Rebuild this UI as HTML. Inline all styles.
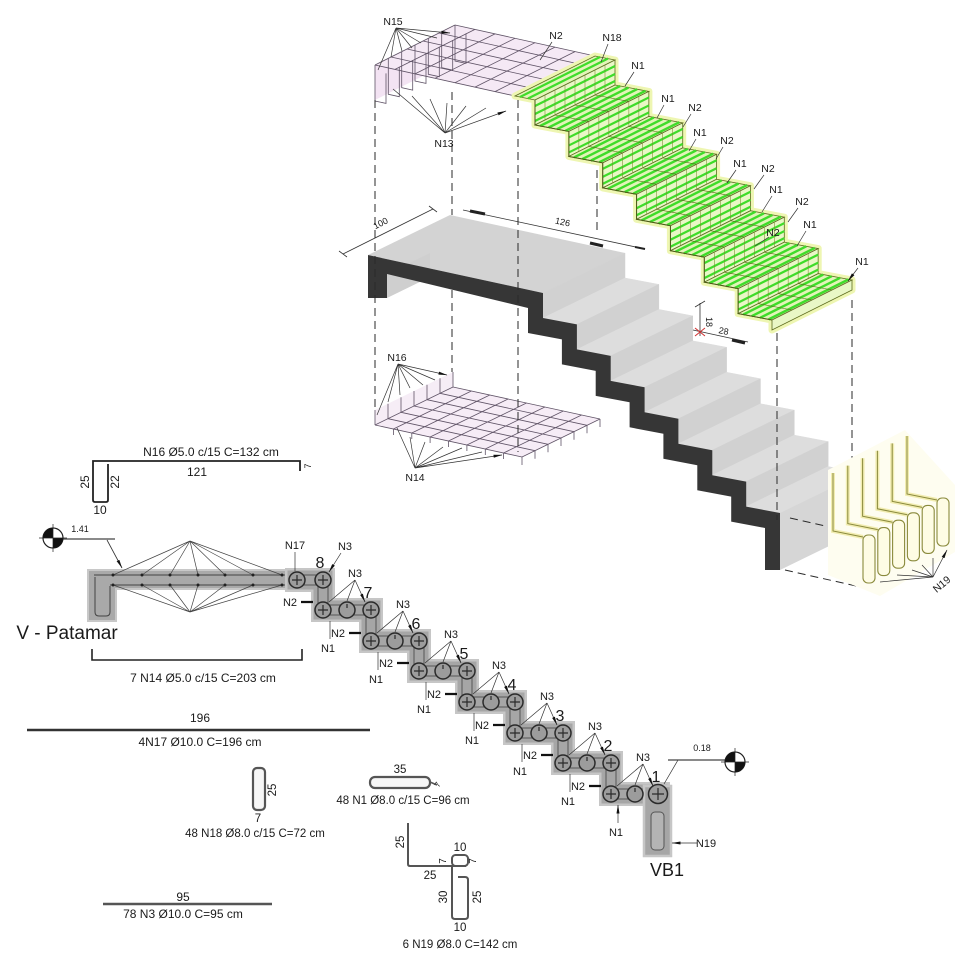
<!DOCTYPE html>
<html><head><meta charset="utf-8"><style>
html,body{margin:0;padding:0;background:#fff;}
svg{display:block;}
text{font-family:"Liberation Sans",Arial,sans-serif;fill:#1a1a1a;}
</style></head><body>
<svg width="960" height="960" viewBox="0 0 960 960" xmlns="http://www.w3.org/2000/svg">
<defs>
<marker id="ar" viewBox="0 0 10 4" refX="9.5" refY="2" markerWidth="9" markerHeight="3.6" markerUnits="userSpaceOnUse" orient="auto"><path d="M0,0.3L10,2L0,3.7Z" fill="#111"/></marker>
<g id="cs">
<path d="M0,0L0,25L82,-15L82,-40Z" fill="#d1d1d1" stroke="#d1d1d1" stroke-width=".5"/>
<path d="M0,25L33.86,31.43L115.86,-8.57L82,-15Z" fill="#dddddd" stroke="#dddddd" stroke-width=".5"/>
</g>
<g id="gs">
<path d="M0,0L0,25L80,-15L80,-40Z" fill="#e9f7c6" stroke="#5c6b1f" stroke-width=".8"/>
<path d="M0,25L33.86,31.43L113.86,-8.57L80,-15Z" fill="#e2f4b8" stroke="#5c6b1f" stroke-width=".8"/>
<path d="M0,6L80,-34M0,14L80,-26M0,21L80,-19" stroke="#3fdc2a" stroke-width="2.2"/>
<path d="M10,-5V20M20,-10V15M30,-15V10M40,-20V5M50,-25V0M60,-30V-5M70,-35V-10" stroke="#7a8a30" stroke-width=".55"/>
<path d="M5.1,26L85.1,-14M13.5,27.6L93.5,-12.4M22,29.2L102,-10.8M30.5,30.8L110.5,-9.2" stroke="#3fdc2a" stroke-width="2.4"/>
<path d="M20,15L53.86,21.43M40,5L73.86,11.43M60,-5L93.86,1.43" stroke="#5c6b1f" stroke-width=".6"/>
<path d="M0,0L0,25L33.86,31.43" fill="none" stroke="#4d5a18" stroke-width="1"/>
</g>
</defs>

<!-- ================= N15 top mesh ================= -->
<path d="M375,65L375,100L455,60L455,25Z" fill="#f3e3f3"/>
<path d="M375,65L515,96L595,56L455,25Z" fill="#f5e9f5"/>
<g stroke="#5f5366" stroke-width=".8" fill="none">
<path d="M375,65L515,96M391,57L531,88M407,49L547,80M423,41L563,72M439,33L579,64M455,25L595,56"/>
<path d="M375,65L455,25M395,69.4L475,29.4M415,73.9L495,33.9M435,78.3L515,38.3M455,82.7L535,42.7M475,87.1L555,47.1M495,91.6L575,51.6M515,96L595,56"/>
<path d="M375,65v36l11,2.4v-30M388.3,58.3v36l11,2.4v-30M401.7,51.7v36l11,2.4v-30M415,45v36l11,2.4v-30M428.3,38.3v36l11,2.4v-30M441.7,31.7v36l11,2.4v-30M455,25v36l11,2.4v-30"/>
</g>

<!-- ================= Green rebar stair ================= -->
<polygon points="515,96 535,100 535,125 568.9,131.4 568.9,156.4 602.7,162.9 602.7,187.9 636.6,194.3 636.6,219.3 670.4,225.7 670.4,250.7 704.3,257.2 704.3,282.2 738.2,288.6 738.2,313.6 772,320 772,330 852,290 852,280 818.2,273.6 818.2,248.6 784.3,242.2 784.3,217.2 750.4,210.7 750.4,185.7 716.6,179.3 716.6,154.3 682.7,147.9 682.7,122.9 648.9,116.4 648.9,91.4 615,85 615,60 595,56" fill="#f1f8c8" stroke="#eef6b2" stroke-width="7" stroke-linejoin="round"/>
<path d="M515,96L535,100L615,60L595,56Z" fill="#e2f4b8" stroke="#5c6b1f" stroke-width=".8"/>
<path d="M520,97L600,57M528,98.5L608,58.5" stroke="#3fdc2a" stroke-width="2.2"/>
<use href="#gs" transform="translate(535,100)"/>
<use href="#gs" transform="translate(568.86,131.43)"/>
<use href="#gs" transform="translate(602.72,162.86)"/>
<use href="#gs" transform="translate(636.58,194.29)"/>
<use href="#gs" transform="translate(670.44,225.72)"/>
<use href="#gs" transform="translate(704.3,257.15)"/>
<use href="#gs" transform="translate(738.16,288.58)"/>
<path d="M772,320L772,330L852,290L852,280Z" fill="#e9f7c6" stroke="#5c6b1f" stroke-width=".8"/>

<!-- ================= N16 lower mesh ================= -->
<path d="M375,425L375,410L453,372L453,387Z" fill="#f6edf6"/>
<path d="M375,425L522,457L600,419L453,387Z" fill="#f6ecf6"/>
<g stroke="#5f5366" stroke-width=".8" fill="none">
<path d="M375,425L522,457M388,418.7L535,450.7M401,412.3L548,444.3M414,406L561,438M427,399.7L574,431.7M440,393.3L587,425.3M453,387L600,419"/>
<path d="M375,425L453,387M393.4,429L471.4,391M411.8,433L489.8,395M430.1,437L508.1,399M448.5,441L526.5,403M466.9,445L544.9,407M485.3,449L563.3,411M503.6,453L581.6,415M522,457L600,419"/>
<path d="M375,425v-15M388,418.7v-15M401,412.3v-15M414,406v-15M427,399.7v-15M440,393.3v-15M453,387v-15"/>
<path d="M522,457v8M535,450.7v8M548,444.3v8M561,438v8M574,431.7v8M587,425.3v8M600,419v8"/>
<path d="M393.4,429v6M411.8,433v6M430.1,437v6M448.5,441v6M466.9,445v6M485.3,449v6M503.6,453v6"/>
</g>

<!-- ================= Concrete stair ================= -->
<path d="M368,255L543,293L625,253L450,215Z" fill="#d3d3d3"/>
<path d="M387,274L387,298L430,277L430,253Z" fill="#cfcfcf"/>
<use href="#cs" transform="translate(543,293)"/>
<use href="#cs" transform="translate(576.86,324.43)"/>
<use href="#cs" transform="translate(610.72,355.86)"/>
<use href="#cs" transform="translate(644.58,387.29)"/>
<use href="#cs" transform="translate(678.44,418.72)"/>
<use href="#cs" transform="translate(712.3,450.15)"/>
<use href="#cs" transform="translate(746.16,481.58)"/>
<path d="M780,513L780,570L862,530L862,473Z" fill="#d6d6d6"/>
<path d="M368,255L543,293V318L576.9,324.4V349.4L610.7,355.9V380.9L644.6,387.3V412.3L678.4,418.7V443.7L712.3,450.2V475.2L746.2,481.6V506.6L780,513V570H765V528L731.2,521.6V496.6L697.3,490.2V465.2L663.4,458.7V433.7L629.6,427.3V402.3L595.7,395.9V370.9L561.9,364.4V339.4L528,333V308L387,274V298H368Z" fill="#363636"/>

<!-- dashed projection lines -->
<g stroke="#2a2a2a" stroke-width="1" stroke-dasharray="8,5" fill="none">
<path d="M375,100V410M452,92V215M452,290V372M518,100V452M597,170V235M777,333V520M852,300V475"/>
<path d="M785,570L865,588M790,518L865,535M862,478L940,495"/>
</g>

<!-- dimensions on concrete -->
<g stroke="#333" stroke-width=".8" fill="none">
<path d="M343,254L433,209M339,251l8,6M429,206l8,6"/>
<path d="M463,210L645,249"/>
<path d="M700,303V336M695,307l10,-6M693,330L748,342"/>
</g>
<path d="M470,211L485,214M590,243L603,246M732,340L745,343" stroke="#222" stroke-width="3"/>
<path d="M635,247L645,249" stroke="#222" stroke-width="2"/>
<path d="M695,328l10,8M695,336l10,-8" stroke="#d03030" stroke-width="1"/>
<text transform="translate(382,226) rotate(-27)" font-size="9" text-anchor="middle">100</text>
<text transform="translate(562,225) rotate(12)" font-size="9" text-anchor="middle">126</text>
<text transform="translate(706,322) rotate(90)" font-size="9" text-anchor="middle">18</text>
<text transform="translate(723,334) rotate(12)" font-size="9" text-anchor="middle">28</text>

<!-- N19 3D stirrups -->
<polygon points="828,470 905,430 955,485 955,552 880,596 828,575" fill="#fefdf0"/>
<g fill="none" stroke="#f1ecb0" stroke-width="4">
<path d="M833,473V531L863,537M847.8,465.6V523.6L877.8,529.6M862.6,458.2V516.2L892.6,522.2M877.4,450.8V508.8L907.4,514.8M892.2,443.4V501.4L922.2,507.4M907,436V494L937,500"/>
</g>
<g fill="none" stroke="#8a8a3c" stroke-width="1">
<path d="M833,473V531L863,537M847.8,465.6V523.6L877.8,529.6M862.6,458.2V516.2L892.6,522.2M877.4,450.8V508.8L907.4,514.8M892.2,443.4V501.4L922.2,507.4M907,436V494L937,500"/>
</g>
<g fill="#fefce4" stroke="#8a8a3c" stroke-width="1.1">
<rect x="863" y="535" width="12" height="48" rx="5"/>
<rect x="877.8" y="527.6" width="12" height="48" rx="5"/>
<rect x="892.6" y="520.2" width="12" height="48" rx="5"/>
<rect x="907.4" y="512.8" width="12" height="48" rx="5"/>
<rect x="922.2" y="505.4" width="12" height="48" rx="5"/>
<rect x="937" y="498" width="12" height="48" rx="5"/>
</g>

<!-- ================= 3D labels & fans ================= -->
<g stroke="#333" stroke-width=".7" fill="none" marker-end="url(#ar)">
<path d="M396,28L378,70M396,28L391,57M396,28L402,51M396,28L412,48M396,28L421,43M396,28L437,38M396,28L450,33"/>
<path d="M445,133L393,89M445,133L412,96M445,133L430,99M445,133L447,103M445,133L466,106M445,133L486,108M445,133L506,111"/>
<path d="M398,364L377,415M398,364L388,402M398,364L400,395M398,364L410,388M398,364L423,385M398,364L435,380M398,364L447,375"/>
<path d="M415,468L397,428M415,468L410,437M415,468L425,442M415,468L443,447M415,468L462,448M415,468L482,452M415,468L502,455"/>
<path d="M933,577L880,582M933,577L897,575M933,577L912,570M933,577L922,565M933,577L933,558M933,577L947,550"/>
<path d="M552,42L540,60M608,44L601,62M634,72L625,86M664,105L657,118M691,114L683,127M696,139L689,151M723,147L716,159M736,170L727,183M764,175L754,189M772,196L762,212M798,208L788,222M769,237L755,246M806,231L797,246M858,268L848,281"/>
</g>
<g font-size="10.5" text-anchor="middle">
<text x="393" y="25">N15</text>
<text x="444" y="147">N13</text>
<text x="556" y="39">N2</text>
<text x="612" y="41">N18</text>
<text x="638" y="69">N1</text>
<text x="668" y="102">N1</text>
<text x="695" y="111">N2</text>
<text x="700" y="136">N1</text>
<text x="727" y="144">N2</text>
<text x="740" y="167">N1</text>
<text x="768" y="172">N2</text>
<text x="776" y="193">N1</text>
<text x="802" y="205">N2</text>
<text x="773" y="236">N2</text>
<text x="810" y="228">N1</text>
<text x="862" y="265">N1</text>
<text x="397" y="361">N16</text>
<text x="415" y="481">N14</text>
<text transform="translate(944,587) rotate(-40)">N19</text>
</g>

<!-- ================= N16 bar shape ================= -->
<path d="M300,471V461H93V500Q93,502 95,502H106Q108,502 108,500V464" fill="none" stroke="#222" stroke-width="1.8"/>
<g font-size="12" text-anchor="middle">
<text x="211" y="456">N16 Ø5.0 c/15 C=132 cm</text>
<text x="197" y="476">121</text>
<text x="100" y="514">10</text>
<text transform="translate(89,482) rotate(-90)">25</text>
<text transform="translate(119,482) rotate(-90)">22</text>
<text transform="translate(311,466) rotate(-90)" font-size="9">7</text>
</g>

<!-- section marker 1 -->
<path d="M43,539H115" stroke="#444" stroke-width="1.3"/>
<path d="M107,540L122,568" stroke="#333" stroke-width=".8" marker-end="url(#ar)"/>
<g transform="translate(53,538)">
<circle r="10" fill="#fff" stroke="#222" stroke-width="1.2"/>
<path d="M0,0V-10A10,10 0 0 0 -10,0Z" fill="#111"/>
<path d="M0,0V10A10,10 0 0 0 10,0Z" fill="#111"/>
<path d="M-14,0H14M0,-14V14" stroke="#222" stroke-width=".7"/>
</g>
<text x="80" y="532" font-size="9" text-anchor="middle">1.41</text>

<!-- landing section -->
<path d="M88,570H333V589H116V621H88Z" fill="#a9a9a9" stroke="#c8c8c8" stroke-width="2"/>
<g fill="none" stroke="#444" stroke-width="1">
<path d="M94,575H330M110,585H318"/>
<path d="M95,577V612Q95,616 99,616H106Q110,616 110,612V586"/>
</g>
<g stroke="#444" stroke-width=".7" fill="none">
<path d="M190,541L113,575M190,541L142,575M190,541L170,575M190,541L198,575M190,541L225,575M190,541L253,575M190,541L282,575"/>
<path d="M190,612L113,585M190,612L142,585M190,612L170,585M190,612L198,585M190,612L225,585M190,612L253,585M190,612L282,585"/>
</g>
<g fill="#222"><circle cx="113" cy="575" r="1.5"/><circle cx="142" cy="575" r="1.5"/><circle cx="170" cy="575" r="1.5"/><circle cx="198" cy="575" r="1.5"/><circle cx="225" cy="575" r="1.5"/><circle cx="253" cy="575" r="1.5"/><circle cx="282" cy="575" r="1.5"/><circle cx="113" cy="585" r="1.5"/><circle cx="142" cy="585" r="1.5"/><circle cx="170" cy="585" r="1.5"/><circle cx="198" cy="585" r="1.5"/><circle cx="225" cy="585" r="1.5"/><circle cx="253" cy="585" r="1.5"/><circle cx="282" cy="585" r="1.5"/></g>

<!-- stepped section band -->
<g fill="none" stroke-linejoin="miter" stroke-linecap="square">
<polyline points="297,580 323,580 323,610 371,610 371,641 419,641 419,671 467,671 467,702 515,702 515,733 563,733 563,763 611,763 611,794 658,794 658,845" stroke="#c6c6c6" stroke-width="24"/>
<polyline points="297,580 323,580 323,610 371,610 371,641 419,641 419,671 467,671 467,702 515,702 515,733 563,733 563,763 611,763 611,794 658,794 658,845" stroke="#a6a6a6" stroke-width="19"/>
<polyline points="297,580 323,580 323,610 371,610 371,641 419,641 419,671 467,671 467,702 515,702 515,733 563,733 563,763 611,763 611,794 658,794" stroke="#555" stroke-width="11"/>
<polyline points="297,580 323,580 323,610 371,610 371,641 419,641 419,671 467,671 467,702 515,702 515,733 563,733 563,763 611,763 611,794 658,794" stroke="#a6a6a6" stroke-width="9"/>
</g>
<rect x="644" y="786" width="27" height="70" fill="#a6a6a6" stroke="#c6c6c6" stroke-width="2.5"/>
<rect x="651" y="812" width="13" height="38" rx="4" fill="#b4b4b4" stroke="#555" stroke-width="1"/>

<!-- bar circles -->
<g fill="#9c9c9c" stroke="#2a2a2a" stroke-width="1.5">
<circle cx="297" cy="580" r="8"/><circle cx="323" cy="580" r="8"/>
<circle cx="323" cy="610" r="8"/><circle cx="347" cy="610" r="8"/><circle cx="371" cy="610" r="8"/>
<circle cx="371" cy="641" r="8"/><circle cx="395" cy="641" r="8"/><circle cx="419" cy="641" r="8"/>
<circle cx="419" cy="671" r="8"/><circle cx="443" cy="671" r="8"/><circle cx="467" cy="671" r="8"/>
<circle cx="467" cy="702" r="8"/><circle cx="491" cy="702" r="8"/><circle cx="515" cy="702" r="8"/>
<circle cx="515" cy="733" r="8"/><circle cx="539" cy="733" r="8"/><circle cx="563" cy="733" r="8"/>
<circle cx="563" cy="763" r="8"/><circle cx="587" cy="763" r="8"/><circle cx="611" cy="763" r="8"/>
<circle cx="611" cy="794" r="8"/><circle cx="635" cy="794" r="8"/><circle cx="658" cy="794" r="9.5"/>
</g>
<g stroke="#2a2a2a" stroke-width="1.2">
<path d="M292,580h10M297,575v10M318,580h10M323,575v10"/>
<path d="M318,610h10M323,605v10M366,610h10M371,605v10"/>
<path d="M366,641h10M371,636v10M414,641h10M419,636v10"/>
<path d="M414,671h10M419,666v10M462,671h10M467,666v10"/>
<path d="M462,702h10M467,697v10M510,702h10M515,697v10"/>
<path d="M510,733h10M515,728v10M558,733h10M563,728v10"/>
<path d="M558,763h10M563,758v10M606,763h10M611,758v10"/>
<path d="M606,794h10M611,789v10M652,794h12M658,788v12"/>
<path d="M347,604v4M395,635v4M443,665v4M491,696v4M539,727v4M587,757v4M635,788v4"/>
</g>

<!-- section labels arrows -->
<g stroke="#333" stroke-width=".7" fill="none" marker-end="url(#ar)">
<path d="M295,552L295,571M341,553L329,572"/>
<path d="M355,580L329,602M355,580L347,601M355,580L365,602"/>
<path d="M403,611L377,633M403,611L395,632M403,611L413,633"/>
<path d="M451,641L425,663M451,641L443,662M451,641L461,663"/>
<path d="M499,672L473,694M499,672L491,693M499,672L509,694"/>
<path d="M547,703L521,725M547,703L539,724M547,703L557,725"/>
<path d="M595,733L569,755M595,733L587,754M595,733L605,755"/>
<path d="M643,764L617,786M643,764L635,785M643,764L653,786"/>
<path d="M330,639V621M378,670V652M426,700V682M474,731V713M522,762V744M570,792V774M618,823V805"/>
<path d="M678,760L664,784M697,843H672"/>
</g>
<g stroke="#111" stroke-width="2.2">
<path d="M301,602H313M349,633H361M397,663H409M445,694H457M493,725H505M541,755H553M589,786H601"/>
</g>
<g font-size="11" text-anchor="middle">
<text x="295" y="549">N17</text>
<text x="345" y="550">N3</text>
<text x="355" y="577">N3</text>
<text x="403" y="608">N3</text>
<text x="451" y="638">N3</text>
<text x="499" y="669">N3</text>
<text x="547" y="700">N3</text>
<text x="595" y="730">N3</text>
<text x="643" y="761">N3</text>
<text x="290" y="606">N2</text>
<text x="338" y="637">N2</text>
<text x="386" y="667">N2</text>
<text x="434" y="698">N2</text>
<text x="482" y="729">N2</text>
<text x="530" y="759">N2</text>
<text x="578" y="790">N2</text>
<text x="328" y="652">N1</text>
<text x="376" y="683">N1</text>
<text x="424" y="713">N1</text>
<text x="472" y="744">N1</text>
<text x="520" y="775">N1</text>
<text x="568" y="805">N1</text>
<text x="616" y="836">N1</text>
<text x="706" y="847">N19</text>
</g>
<g font-size="16" text-anchor="middle">
<text x="320" y="568">8</text>
<text x="368" y="598">7</text>
<text x="416" y="629">6</text>
<text x="464" y="659">5</text>
<text x="512" y="690">4</text>
<text x="560" y="721">3</text>
<text x="608" y="751">2</text>
<text x="656" y="782">1</text>
</g>
<text x="667" y="876" font-size="18" text-anchor="middle">VB1</text>
<text x="67" y="639" font-size="19" text-anchor="middle">V - Patamar</text>

<!-- section marker 2 -->
<path d="M668,760H726" stroke="#444" stroke-width="1.2"/>
<text x="702" y="751" font-size="9" text-anchor="middle">0.18</text>
<g transform="translate(735,762)">
<circle r="10" fill="#fff" stroke="#222" stroke-width="1.2"/>
<path d="M0,0V-10A10,10 0 0 0 -10,0Z" fill="#111"/>
<path d="M0,0V10A10,10 0 0 0 10,0Z" fill="#111"/>
<path d="M-14,0H14M0,-14V14" stroke="#222" stroke-width=".7"/>
</g>

<!-- N14 bracket & bar schedule -->
<path d="M92,649V660H302V649" fill="none" stroke="#222" stroke-width="1.6"/>
<path d="M27,730H370" stroke="#333" stroke-width="2.4"/>
<path d="M103,904H272" stroke="#555" stroke-width="2.6"/>
<rect x="253" y="768" width="12" height="42" rx="4" fill="#f6f6f6" stroke="#555" stroke-width="2.2"/>
<rect x="370" y="777" width="60" height="11" rx="5" fill="#f6f6f6" stroke="#555" stroke-width="2.2"/>
<path d="M430,782L437,785" stroke="#555" stroke-width="1.5"/>
<g fill="none" stroke="#555" stroke-width="2">
<path d="M408,823V864Q408,866 410,866H466"/>
<rect x="452" y="855" width="16" height="11" rx="3.5"/>
<path d="M452,866V916Q452,919 455,919H465Q468,919 468,916V880Q468,877 465,877H458"/>
</g>
<g font-size="12" text-anchor="middle">
<text x="203" y="682">7 N14 Ø5.0 c/15 C=203 cm</text>
<text x="200" y="722">196</text>
<text x="200" y="746">4N17 Ø10.0 C=196 cm</text>
<text x="183" y="901">95</text>
<text x="183" y="918">78 N3 Ø10.0 C=95 cm</text>
</g>
<g font-size="11.5" text-anchor="middle">
<text x="400" y="773">35</text>
<text x="403" y="804">48 N1 Ø8.0 c/15 C=96 cm</text>
<text x="258" y="822">7</text>
<text x="255" y="837">48 N18 Ø8.0 c/15 C=72 cm</text>
<text transform="translate(276,790) rotate(-90)">25</text>
<text transform="translate(440,786) rotate(-60)" font-size="8">7</text>
<text transform="translate(404,842) rotate(-90)">25</text>
<text transform="translate(446,861) rotate(-90)" font-size="10">7</text>
<text x="460" y="851">10</text>
<text transform="translate(476,861) rotate(-90)" font-size="10">7</text>
<text x="430" y="879">25</text>
<text transform="translate(447,897) rotate(-90)">30</text>
<text transform="translate(481,897) rotate(-90)">25</text>
<text x="460" y="931">10</text>
<text x="460" y="948">6 N19 Ø8.0 C=142 cm</text>
</g>
</svg>
</body></html>
